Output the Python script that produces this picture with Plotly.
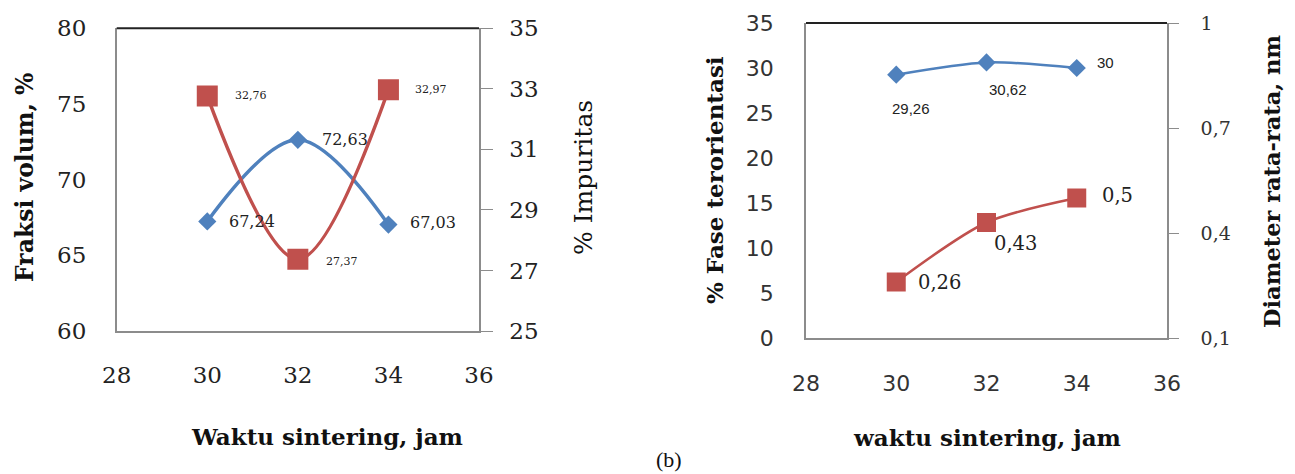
import plotly.graph_objects as go

# ---------------- data: chart (a) ----------------
x_a = [30, 32, 34]
fraksi_volum = [67.24, 72.63, 67.03]
impuritas = [32.76, 27.37, 32.97]
fraksi_labels = ["67,24", "72,63", "67,03"]
impuritas_labels = ["32,76", "27,37", "32,97"]

# ---------------- data: chart (b) ----------------
x_b = [30, 32, 34]
fase_terorientasi = [29.26, 30.62, 30.0]
diameter = [0.26, 0.43, 0.5]
fase_labels = ["29,26", "30,62", "30"]
diameter_labels = ["0,26", "0,43", "0,5"]

# ---------------- ticks ----------------
x_ticks = [28, 30, 32, 34, 36]
ya_left_ticks = [60, 65, 70, 75, 80]
ya_right_ticks = [25, 27, 29, 31, 33, 35]
yb_left_ticks = [0, 5, 10, 15, 20, 25, 30, 35]
yb_right_ticks = [0.1, 0.4, 0.7, 1.0]
yb_right_text = ["0,1", "0,4", "0,7", "1"]

BLUE = "#4F81BD"
RED = "#C0504D"
SERIF = "DejaVu Serif"
SANS = "DejaVu Sans"
AXIS_GREY = "#8c8c8c"

W, H = 1295, 474


def px_x(p):
    return p / W


def px_y(p):
    return 1 - p / H


fig = go.Figure()

fig.add_trace(go.Scatter(
    x=x_a, y=fraksi_volum, xaxis="x", yaxis="y", mode="lines+markers",
    line=dict(color=BLUE, width=3.5, shape="spline", smoothing=1.0),
    marker=dict(symbol="diamond", size=14, color=BLUE), showlegend=False))
fig.add_trace(go.Scatter(
    x=x_a, y=impuritas, xaxis="x", yaxis="y2", mode="lines+markers",
    line=dict(color=RED, width=3.5, shape="spline", smoothing=1.0),
    marker=dict(symbol="square", size=21, color=RED), showlegend=False))
fig.add_trace(go.Scatter(
    x=x_b, y=fase_terorientasi, xaxis="x2", yaxis="y3", mode="lines+markers",
    line=dict(color=BLUE, width=2.5, shape="spline", smoothing=0.8),
    marker=dict(symbol="diamond", size=14, color=BLUE), showlegend=False))
fig.add_trace(go.Scatter(
    x=x_b, y=diameter, xaxis="x2", yaxis="y4", mode="lines+markers",
    line=dict(color=RED, width=2.5, shape="spline", smoothing=0.8),
    marker=dict(symbol="square", size=19, color=RED), showlegend=False))

annotations = []
# data labels chart (a)
a_blue_shift = [(45, 0), (47, 0), (45, 2)]
for xv, yv, t, (dx, dy) in zip(x_a, fraksi_volum, fraksi_labels, a_blue_shift):
    annotations.append(dict(x=xv, y=yv, xref="x", yref="y", text=t, showarrow=False,
                            xshift=dx, yshift=dy, font=dict(family=SERIF, size=16, color="#222")))
a_red_shift = [(44, 1), (44, -2), (43, 0)]
for xv, yv, t, (dx, dy) in zip(x_a, impuritas, impuritas_labels, a_red_shift):
    annotations.append(dict(x=xv, y=yv, xref="x", yref="y2", text=t, showarrow=False,
                            xshift=dx, yshift=dy, font=dict(family=SERIF, size=11, color="#222")))
# data labels chart (b)
b_blue_shift = [(15, -34), (22, -27), (29, 5)]
for xv, yv, t, (dx, dy) in zip(x_b, fase_terorientasi, fase_labels, b_blue_shift):
    annotations.append(dict(x=xv, y=yv, xref="x2", yref="y3", text=t, showarrow=False,
                            xshift=dx, yshift=dy, font=dict(family="Liberation Sans", size=15, color="#222")))
b_red_shift = [(43, 0), (29, -21), (41, 2)]
for xv, yv, t, (dx, dy) in zip(x_b, diameter, diameter_labels, b_red_shift):
    annotations.append(dict(x=xv, y=yv, xref="x2", yref="y4", text=t, showarrow=False,
                            xshift=dx, yshift=dy, font=dict(family=SERIF, size=19.5, color="#222")))

# axis titles
def title(text, xp, yp, size, angle=0, bold=True, family=SERIF):
    txt = f"<b>{text}</b>" if bold else text
    annotations.append(dict(x=px_x(xp), y=px_y(yp), xref="paper", yref="paper", text=txt,
                            showarrow=False, textangle=angle, xanchor="center", yanchor="middle",
                            font=dict(family=family, size=size, color="#111")))

title("Fraksi volum, %", 25, 178, 23.5, -90)
title("% Impuritas", 583, 178, 25, -90, bold=False)
title("Waktu sintering, jam", 327, 436, 23)
title("% Fase terorientasi", 714, 180, 23, -90)
title("Diameter rata-rata, nm", 1272, 182, 22.5, -90)
title("waktu sintering, jam", 987, 437, 23)
title("(b)", 669, 459, 22, bold=False, family="Liberation Serif")

tick_font_a = dict(family=SERIF, size=23, color="#222")
tick_font_b_sans = dict(family=SANS, size=22, color="#333")
tick_font_b_serif = dict(family=SERIF, size=19, color="#333")

xa_dom = [px_x(116.7), px_x(479)]
ya_dom = [px_y(331), px_y(28.3)]
xb_dom = [px_x(806), px_x(1167)]
yb_dom = [px_y(338), px_y(23)]

common = dict(showgrid=False, zeroline=False, showline=True, linecolor=AXIS_GREY,
              linewidth=1.5, automargin=False)

fig.update_layout(
    width=W, height=H, margin=dict(l=0, r=0, t=0, b=0, autoexpand=False),
    paper_bgcolor="white", plot_bgcolor="white",
    xaxis=dict(domain=xa_dom, anchor="y", range=[28, 36], tickvals=x_ticks,
               ticks="", tickfont=tick_font_a, ticklabelstandoff=23, **common),
    yaxis=dict(domain=ya_dom, anchor="x", range=[60, 80], tickvals=ya_left_ticks,
               ticks="", tickfont=tick_font_a, ticklabelstandoff=24, **common),
    yaxis2=dict(domain=ya_dom, anchor="x", overlaying="y", side="right", range=[25, 35],
                tickvals=ya_right_ticks, ticks="outside", ticklen=12, tickcolor=AXIS_GREY,
                tickfont=tick_font_a, ticklabelstandoff=12, **common),
    xaxis2=dict(domain=xb_dom, anchor="y3", range=[28, 36], tickvals=x_ticks,
                ticks="", tickfont=tick_font_b_sans, ticklabelstandoff=25, **common),
    yaxis3=dict(domain=yb_dom, anchor="x2", range=[0, 35], tickvals=yb_left_ticks,
                ticks="", tickfont=tick_font_b_sans, ticklabelstandoff=26, **common),
    yaxis4=dict(domain=yb_dom, anchor="x2", overlaying="y3", side="right", range=[0.1, 1.0],
                tickvals=yb_right_ticks, ticktext=yb_right_text, ticks="outside", ticklen=10,
                tickcolor=AXIS_GREY, tickfont=tick_font_b_serif, ticklabelstandoff=18, **common),
    annotations=annotations,
    shapes=[
        dict(type="line", xref="x domain", yref="y domain", x0=0, x1=1, y0=1, y1=1,
             line=dict(color="#222", width=2)),
        dict(type="line", xref="x2 domain", yref="y3 domain", x0=0, x1=1, y0=1, y1=1,
             line=dict(color="#222", width=2)),
    ],
)

fig.write_html("out.html", config={"displayModeBar": False},
               post_script="document.body.style.margin='0';document.body.style.overflow='hidden';")
